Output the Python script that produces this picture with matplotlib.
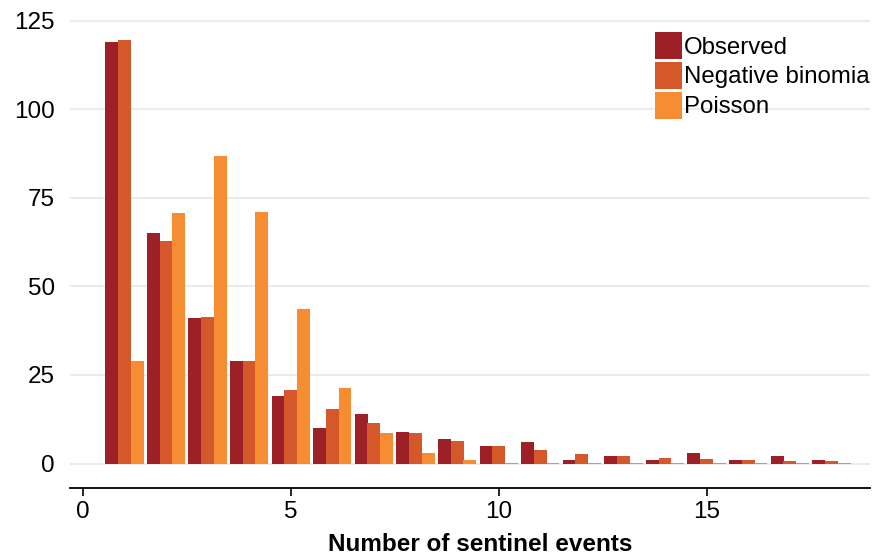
import numpy as np
import matplotlib.pyplot as plt

plt.rcParams['font.family'] = ['Liberation Sans', 'DejaVu Sans']

events = np.arange(1, 19)
observed = [119, 65, 41, 29, 19, 10, 14, 9, 7, 5, 6, 1, 2, 1, 3, 1, 2, 1]
neg_binomial = [119.5, 62.8, 41.3, 29.0, 20.8, 15.4, 11.4, 8.6, 6.3, 4.9,
                3.8, 2.7, 2.0, 1.5, 1.3, 1.0, 0.7, 0.6]
poisson = [29.0, 70.7, 86.8, 71.0, 43.6, 21.4, 8.7, 2.9, 0.9, 0.3,
           0.3, 0.3, 0.3, 0.3, 0.3, 0.3, 0.3, 0.3]

labels = ['Observed', 'Negative binomia', 'Poisson']
colors = ['#9E2027', '#D4582A', '#F68D33']

fig = plt.figure(figsize=(8.74, 5.55), dpi=100)
ax = fig.add_axes([0.080, 0.1207, 0.915, 0.858])

width = 0.31
for i, (vals, lab, col) in enumerate(zip([observed, neg_binomial, poisson], labels, colors)):
    ax.bar(events + (i - 1) * 0.305, vals, width=width, color=col, label=lab,
           linewidth=0, zorder=3)

ax.set_xlim(-0.31, 18.92)
ax.set_ylim(-6.9, 127.5)
ax.set_yticks([0, 25, 50, 75, 100, 125])
ax.set_xticks([0, 5, 10, 15])

ax.yaxis.grid(True, color='#EBEBEB', linewidth=1.5, zorder=0)
ax.set_axisbelow(True)
for side in ['left', 'right', 'top']:
    ax.spines[side].set_visible(False)
ax.spines['bottom'].set_linewidth(1.3)

ax.tick_params(axis='y', length=0, pad=11, labelsize=17.5)
ax.tick_params(axis='x', length=6, width=1.2, pad=3, labelsize=17.5)

ax.set_xlabel('Number of sentinel events', fontsize=17.5, fontweight='bold')
ax.xaxis.set_label_coords(0.513, -0.094)

ax.legend(loc='upper left', bbox_to_anchor=(655 / 874, 1 - 32 / 555),
          bbox_transform=fig.transFigure, frameon=False, fontsize=17.3,
          handlelength=1.12, handleheight=1.35, handletextpad=0.08,
          labelspacing=0.12, borderpad=0, borderaxespad=0)

fig.savefig('out.png', dpi=100)
